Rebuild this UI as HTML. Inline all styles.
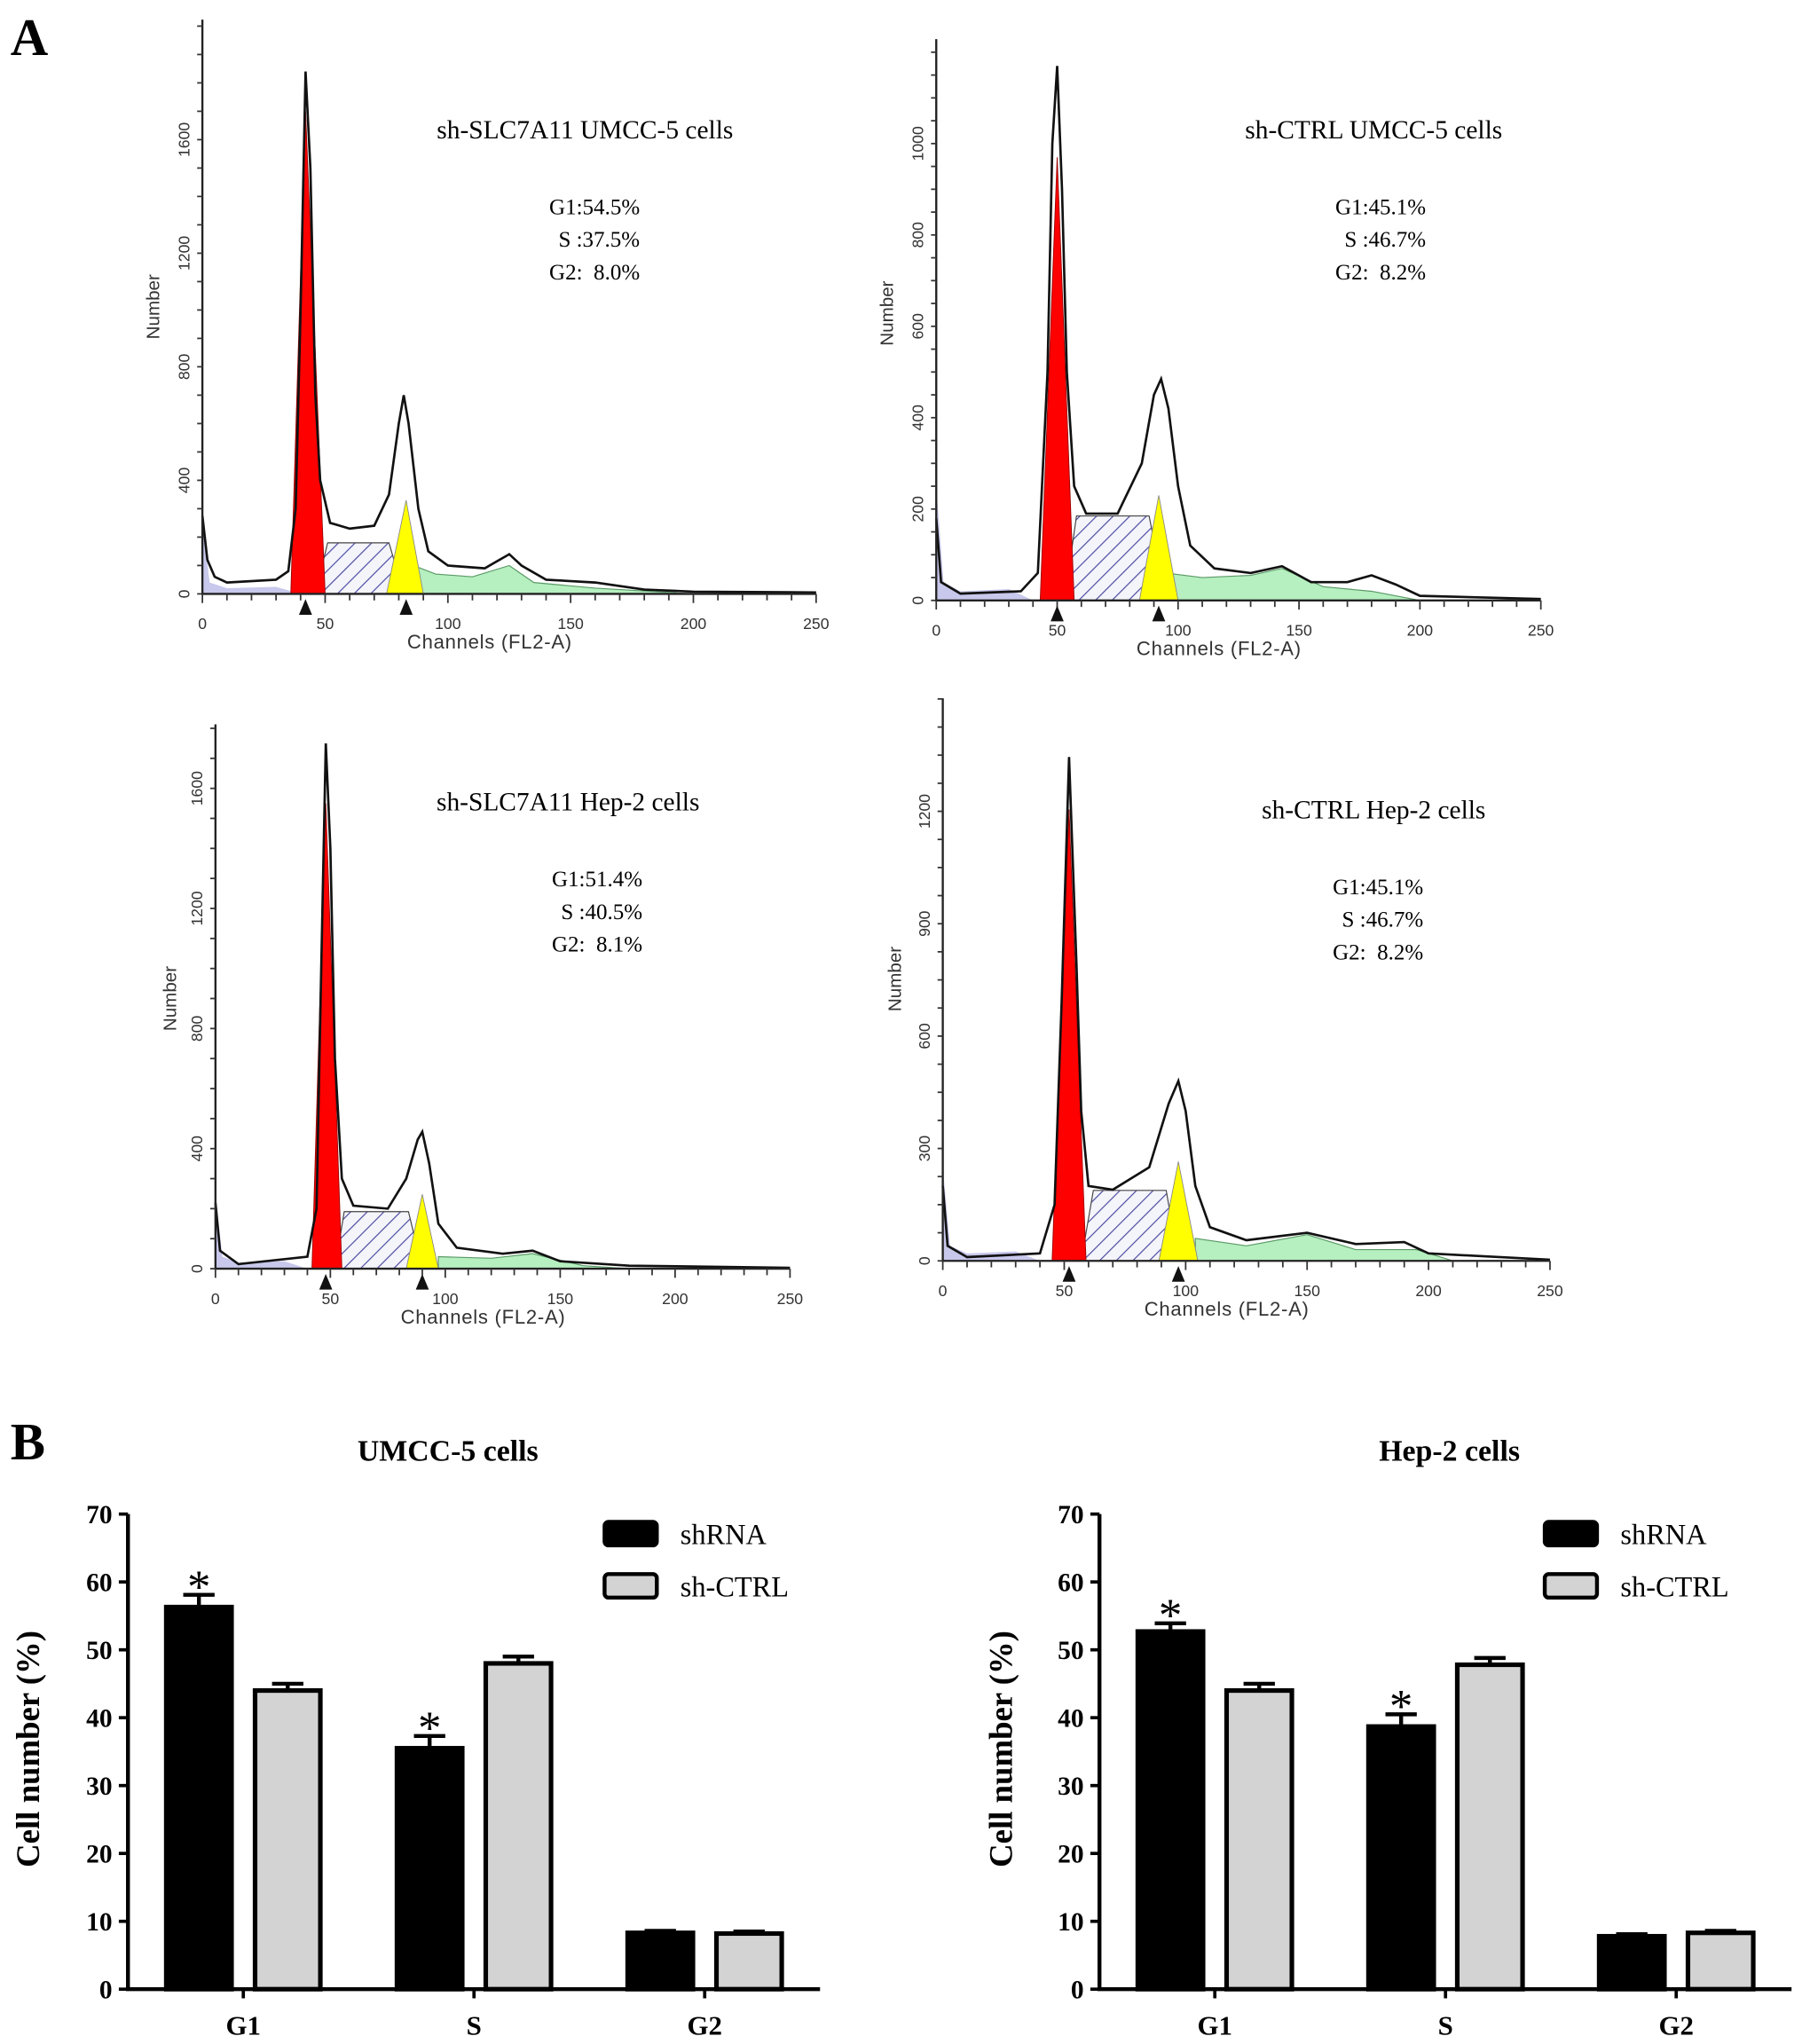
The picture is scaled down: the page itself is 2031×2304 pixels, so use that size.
<!DOCTYPE html>
<html><head><meta charset="utf-8"><style>
html,body{margin:0;padding:0;background:#fff;}
svg{display:block;}
.ser{font-family:"Liberation Serif",serif;}
.san{font-family:"Liberation Sans",sans-serif;}
text{white-space:pre;}
</style></head>
<body>
<svg id="fig" width="2031" height="2304" viewBox="0 0 1380 1566" preserveAspectRatio="none" xmlns="http://www.w3.org/2000/svg">
<defs>
<pattern id="hatch" patternUnits="userSpaceOnUse" width="9" height="9" patternTransform="rotate(45)">
<rect width="9" height="9" fill="#f4f4fb"/><line x1="0" y1="0" x2="0" y2="9" stroke="#4a4aa0" stroke-width="1.6"/>
</pattern>
</defs>
<text x="8" y="42" class="ser" font-size="40" font-weight="bold">A</text>
<text x="8" y="1118" class="ser" font-size="40" font-weight="bold">B</text>
<g id="hists"></g>
<g id="bars"></g>
</svg>
<script>
// ---------- Histogram data (channel, count) ----------
const histTitles=["sh-SLC7A11 UMCC-5 cells","sh-CTRL UMCC-5 cells","sh-SLC7A11 Hep-2 cells","sh-CTRL Hep-2 cells"];
const histG1=["G1:54.5%","G1:45.1%","G1:51.4%","G1:45.1%"];
const histS=["S :37.5%","S :46.7%","S :40.5%","S :46.7%"];
const histG2=["G2:  8.0%","G2:  8.2%","G2:  8.1%","G2:  8.2%"];
const yTickLabels=[[0,400,800,1200,1600],[0,200,400,600,800,1000],[0,400,800,1200,1600],[0,300,600,900,1200]];
const xTickLabels=[0,50,100,150,200,250];
const outline1=[[0,275],[2,120],[5,60],[10,40],[30,50],[35,80],[38,300],[40,1000],[42,1840],[44,1500],[46,700],[48,400],[52,250],[60,230],[70,240],[76,350],[80,600],[82,700],[84,600],[88,300],[92,150],[100,100],[115,90],[125,140],[130,100],[140,50],[160,40],[180,15],[200,8],[250,5]];
const outline2=[[0,180],[2,40],[10,15],[35,20],[42,60],[46,500],[48,1000],[50,1170],[52,900],[54,500],[57,250],[62,190],[75,190],[85,300],[90,450],[93,485],[96,420],[100,250],[105,120],[115,70],[130,60],[143,75],[155,40],[170,40],[180,55],[190,35],[200,10],[250,3]];
const outline3=[[0,220],[2,60],[10,15],[40,40],[44,200],[46,1000],[48,1750],[50,1400],[52,700],[55,300],[60,210],[75,200],[83,300],[88,430],[90,456],[93,350],[97,150],[105,70],[125,50],[138,60],[150,25],[180,10],[250,3]];
const outline4=[[0,200],[2,40],[10,10],[40,20],[46,150],[49,700],[52,1345],[55,800],[57,400],[60,200],[70,190],[85,250],[93,420],[97,480],[100,400],[104,200],[110,90],[125,55],[150,75],[170,45],[190,50],[200,20],[250,3]];
const red1=[[36,0],[42,1700],[50,0]], red2=[[43,0],[50,970],[57,0]], red3=[[42,0],[48,1550],[55,0]], red4=[[45,0],[52,1205],[59,0]];
const yel1=[[75,0],[83,330],[90,0]], yel2=[[84,0],[92,230],[100,0]], yel3=[[83,0],[90,248],[97,0]], yel4=[[89,0],[97,265],[105,0]];
const sreg1=[[46,0],[51,180],[76,180],[82,0]], sreg2=[[53,0],[58,185],[88,185],[95,0]], sreg3=[[52,0],[56,190],[84,190],[90,0]], sreg4=[[57,0],[62,188],[92,188],[97,0]];
const green1=[[86,0],[86,100],[95,70],[110,60],[125,100],[135,40],[160,20],[200,0]];
const green2=[[95,0],[95,60],[110,50],[130,55],[143,70],[160,30],[180,20],[200,0]];
const green3=[[97,0],[97,40],[120,35],[138,50],[160,10],[180,0]];
const green4=[[104,0],[104,60],[125,40],[150,70],[170,30],[195,30],[210,0]];
const arrows=[[42,83],[50,92],[48,90],[52,97]];
const outlines=[outline1,outline2,outline3,outline4];
const reds=[red1,red2,red3,red4], yels=[yel1,yel2,yel3,yel4], sregs=[sreg1,sreg2,sreg3,sreg4], greens=[green1,green2,green3,green4];

// ---------- Bar chart data ----------
const categories=["G1","S","G2"];
const umccSh=[56.3,35.5,8.3], umccShErr=[1.8,1.8,0.3];
const umccCt=[44.0,48.0,8.2], umccCtErr=[1.0,1.0,0.3];
const hepSh=[52.7,38.7,7.8], hepShErr=[1.2,1.8,0.3];
const hepCt=[44.0,47.8,8.3], hepCtErr=[1.0,1.0,0.3];
const barTicks=[0,10,20,30,40,50,60,70];
const sigUmcc=[true,true,false], sigHep=[true,true,false];

const NS="http://www.w3.org/2000/svg";
function mk(tag,attrs,parent){const e=document.createElementNS(NS,tag);for(const k in attrs)e.setAttribute(k,attrs[k]);parent.appendChild(e);return e;}

const hl=[
 {x0:155,x1:625,y0:455,ppc:0.2175,top:15,minor:100,title:[448,106],stat:490,nm:[122,235]},
 {x0:717,x1:1180,y0:460,ppc:0.35,top:30,minor:50,title:[1052,106],stat:1092,nm:[684,240]},
 {x0:165,x1:605,y0:972,ppc:0.23,top:555,minor:100,title:[435,621],stat:492,nm:[135,765]},
 {x0:722,x1:1187,y0:966,ppc:0.287,top:535,minor:75,title:[1052,627],stat:1090,nm:[690,750]}
];
const hg=document.getElementById('hists');
hl.forEach((L,i)=>{
 const g=mk('g',{},hg);
 
 
 const sx=c=>L.x0+c*(L.x1-L.x0)/250, sy=v=>L.y0-v*L.ppc;
 const pts=a=>a.map(p=>sx(p[0]).toFixed(1)+','+sy(p[1]).toFixed(1)).join(' ');
 const bg=mk('polygon',{points:pts([[0,0],[0,250],[3,40],[10,20],[30,25],[40,0]]),fill:'#c8c8ec'},g);
 
 
 const gr=mk('polygon',{points:pts(greens[i]),fill:'#b6efc0',stroke:'#5a9a66','stroke-width':0.8},g);
 
 
 const s=mk('polygon',{points:pts(sregs[i]),fill:'url(#hatch)',stroke:'#444',"stroke-width":0.8},g);
 
 
 const r=mk('polygon',{points:pts(reds[i]),fill:'#ff0000',stroke:'#900','stroke-width':0.6},g);
 
 
 const y=mk('polygon',{points:pts(yels[i]),fill:'#ffff00',stroke:'#888','stroke-width':0.6},g);
 
 
 const o=mk('polyline',{points:pts(outlines[i]),fill:'none',stroke:'#111','stroke-width':1.8},g);
 
 
 const ax=mk('path',{d:`M${L.x0},${L.top}V${L.y0}H${L.x1}`,stroke:'#222','stroke-width':1.6,fill:'none'},g);
 
 
 const yt=yTickLabels[i], ymax=(L.y0-L.top)/L.ppc;
 for(let v=0;v<=ymax;v+=L.minor){mk('line',{x1:L.x0-4,x2:L.x0,y1:sy(v),y2:sy(v),stroke:'#333','stroke-width':1.2},g);}
 yt.forEach(v=>{
  const t=mk('text',{x:L.x0-10,y:sy(v),'text-anchor':'middle','font-size':12,fill:'#333',transform:`rotate(-90 ${L.x0-10} ${sy(v)})`,class:'san'},g);
  t.textContent=v;
  
  
 });
 for(let c=0;c<=250;c+=10){mk('line',{x1:sx(c),x2:sx(c),y1:L.y0,y2:L.y0+(c%50?5:7),stroke:'#333','stroke-width':1.2},g);}
 xTickLabels.forEach(c=>{
  const t=mk('text',{x:sx(c),y:L.y0+27,'text-anchor':'middle','font-size':12,fill:'#333',class:'san'},g);
  t.textContent=c;
  
  
 });
 arrows[i].forEach(c=>{
  const a=mk('polygon',{points:`${sx(c)-5},${L.y0+16} ${sx(c)+5},${L.y0+16} ${sx(c)},${L.y0+4}`,fill:'#111'},g);
  
  
 });
 const xl=mk('text',{x:(L.x0+L.x1)/2-15,y:L.y0+42,'text-anchor':'middle','font-size':15,fill:'#333',class:'san','letter-spacing':'0.5'},g);
 xl.textContent='Channels (FL2-A)';
 
 
 const yl=mk('text',{x:L.nm[0],y:L.nm[1],'text-anchor':'middle','font-size':14,fill:'#333',class:'san',transform:`rotate(-90 ${L.nm[0]} ${L.nm[1]})`},g);
 yl.textContent='Number';
 
 
 const ti=mk('text',{x:L.title[0],y:L.title[1],'text-anchor':'middle','font-size':20,class:'ser'},g);
 ti.textContent=histTitles[i];
 
 
 [histG1[i],histS[i],histG2[i]].forEach((s,k)=>{
  const t=mk('text',{x:L.stat,y:L.title[1]+58+k*25,'text-anchor':'end','font-size':17,class:'ser'},g);
  t.textContent=s;
  
  
 });
});

// ---------- Bar charts ----------
const bl=[
 {x0:98,x1:628,title:'UMCC-5 cells',tx:343,leg:463,ylx:30,sh:umccSh,she:umccShErr,ct:umccCt,cte:umccCtErr,sig:sigUmcc,name:'umcc5-bar-chart'},
 {x0:842,x1:1372,title:'Hep-2 cells',tx:1110,leg:1183,ylx:775,sh:hepSh,she:hepShErr,ct:hepCt,cte:hepCtErr,sig:sigHep,name:'hep2-bar-chart'}
];
const bgp=document.getElementById('bars');
const BY0=1524, BY70=1160;
bl.forEach(B=>{
 const g=mk('g',{},bgp);
 
 
 const sy=v=>BY0-v*(BY0-BY70)/70;
 const groupW=(B.x1-B.x0)/categories.length;
 const cx=k=>B.x0+groupW*(k+0.5);
 const bw=50;
 categories.forEach((c,k)=>{
  [[B.sh,B.she,'#000','shrna'],[B.ct,B.cte,'#d3d3d3','sh-ctrl']].forEach((s,j)=>{
   const v=s[0][k], e=s[1][k];
   const x=cx(k)+(j?9:-9-bw);
   const er=mk('path',{d:`M${x+bw/2},${sy(v)}V${sy(v+e)}M${x+bw/2-12},${sy(v+e)}H${x+bw/2+12}`,stroke:'#000','stroke-width':3,fill:'none'},g);
   
   
   const r=mk('rect',{x:x,y:sy(v),width:bw,height:sy(0)-sy(v),fill:s[2],stroke:'#000','stroke-width':3.5},g);
   
   
   if(j===0&&B.sig[k]){
    const st=mk('text',{x:x+bw/2,y:sy(v+e)+6,'text-anchor':'middle','font-size':36,class:'ser'},g);
    st.textContent='*';
    
    
   }
  });
  mk('line',{x1:cx(k),x2:cx(k),y1:BY0,y2:BY0+7,stroke:'#000','stroke-width':2.5},g);
  const t=mk('text',{x:cx(k),y:BY0+35,'text-anchor':'middle','font-size':21,'font-weight':'bold',class:'ser'},g);
  t.textContent=c;
  
  
 });
 const ax=mk('path',{d:`M${B.x0},${BY70}V${BY0}H${B.x1}`,stroke:'#000','stroke-width':3,fill:'none'},g);
 
 
 barTicks.forEach(v=>{
  mk('line',{x1:B.x0-7,x2:B.x0,y1:sy(v),y2:sy(v),stroke:'#000','stroke-width':2.5},g);
  const t=mk('text',{x:B.x0-12,y:sy(v)+7,'text-anchor':'end','font-size':20,'font-weight':'bold',class:'ser'},g);
  t.textContent=v;
  
  
 });
 const ti=mk('text',{x:B.tx,y:1119,'text-anchor':'middle','font-size':23,'font-weight':'bold',class:'ser'},g);
 ti.textContent=B.title;
 
 
 const yl=mk('text',{x:B.ylx,y:1340,'text-anchor':'middle','font-size':25,'font-weight':'bold',class:'ser',transform:`rotate(-90 ${B.ylx} 1340)`},g);
 yl.textContent='Cell number (%)';
 
 
 [['shRNA','#000'],['sh-CTRL','#d3d3d3']].forEach((L,k)=>{
  const r=mk('rect',{x:B.leg,y:1166+k*40,width:40,height:18,rx:3,fill:L[1],stroke:'#000','stroke-width':3},g);
  
  
  const t=mk('text',{x:B.leg+58,y:1183+k*40,'font-size':22,class:'ser'},g);
  t.textContent=L[0];
  
  
 });
});
</script>
</body></html>
